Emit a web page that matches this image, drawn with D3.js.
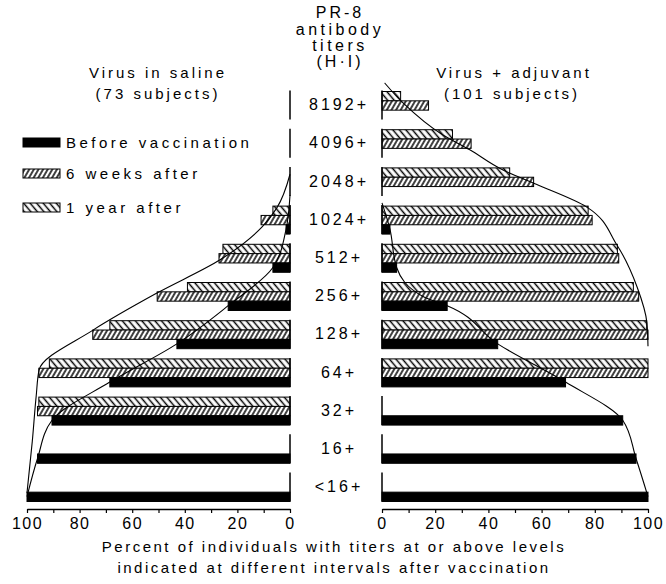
<!DOCTYPE html>
<html>
<meta charset="utf-8">
<head>
<script src="https://cdn.jsdelivr.net/npm/d3@7"></script>
<style>
  body { margin: 0; background: #fff; }
  text { font-family: "Liberation Sans", Arial, sans-serif; fill: #000; }
</style>
</head>
<body>
<svg id="chart" width="666" height="584"></svg>
<script>
// titer levels, top to bottom
var titers = ["8192+", "4096+", "2048+", "1024+", "512+", "256+", "128+", "64+", "32+", "16+", "<16+"];

// Virus in saline (73 subjects), percent at or above level
var salineBefore = [null, null, null, 1.5, 6.5, 23.5, 43, 68.5, 90.5, 96, 100];
var salineWeeks  = [null, null, null, 11, 27, 50.5, 75, 95.5, 96, null, null];
var salineYear   = [null, null, null, 6.5, 25.5, 39, 68.5, 91.5, 95.5, null, null];

// Virus + adjuvant (101 subjects)
var adjuvantBefore = [null, null, null, 3, 5.5, 24.5, 43.5, 69, 90.5, 95.5, 100];
var adjuvantWeeks  = [17.5, 33.5, 57, 79, 89, 96.5, 100, 100, null, null, null];
var adjuvantYear   = [7, 26.5, 48, 77.5, 88.5, 94.5, 99.5, 100, null, null, null];

// hand fitted curves: [row position, percent]
var salineBeforeCurve = [[2.35, 0], [3.24, 1.5], [4.24, 6.5], [5.24, 23.5], [6.24, 43], [7.24, 68.5], [8.24, 90.5], [9.24, 96], [10.24, 100]];
var salineAfterCurve = [[1.8, 0], [2.68, 5], [3.18, 10.6], [4.04, 26.6], [4.91, 50.6], [5.88, 74.9], [6.92, 95.4], [7.6, 96.5], [8.8, 98], [10.14, 100]];
var adjuvantBeforeCurve = [[2.55, 0], [3.24, 3], [4.24, 5.5], [5.0, 15.4], [5.24, 24.5], [6.24, 43.5], [7.24, 69], [8.24, 90.5], [9.24, 95.5], [10.24, 100]];
var adjuvantAfterCurve = [[-0.59, 1], [-0.07, 7.9], [0.77, 22.9], [1.16, 33], [1.69, 45.5], [2.03, 56.8], [2.66, 77], [3.65, 88.3], [4.75, 95.9], [5.69, 99.6], [6.3, 100]];

var axisTicks = [0, 10, 20, 30, 40, 50, 60, 70, 80, 90, 100];

var svg = d3.select("#chart");

var xL = d3.scaleLinear().domain([0, 100]).range([290, 27]);
var xR = d3.scaleLinear().domain([0, 100]).range([382, 648]);
var yRow = d3.scaleLinear().domain([0, 10]).range([105.5, 487.5]);
var barH = 9.33;

// hatch patterns
var defs = svg.append("defs");
function hatch(id, w, angle) {
  var p = defs.append("pattern").attr("id", id)
    .attr("patternUnits", "userSpaceOnUse")
    .attr("width", w).attr("height", w)
    .attr("patternTransform", "rotate(" + angle + ")");
  p.append("rect").attr("width", w).attr("height", w).attr("fill", "#fff");
  p.append("line").attr("x1", w / 2).attr("y1", 0).attr("x2", w / 2).attr("y2", w)
    .attr("stroke", "#000").attr("stroke-width", 1.5);
}
hatch("weeks", 4, 30);
hatch("year", 5, -40);

function panel(x, before, weeks, year, curves) {
  var g = svg.append("g");
  var series = [
    {vals: year, fill: "url(#year)", k: 0},
    {vals: weeks, fill: "url(#weeks)", k: 1},
    {vals: before, fill: "#000", k: 2}
  ];
  series.forEach(function(s) {
    var rows = s.vals.map(function(v, i) { return {v: v, i: i}; })
      .filter(function(d) { return d.v != null; });
    g.selectAll(null).data(rows).enter().append("rect")
      .attr("x", function(d) { return Math.min(x(0), x(d.v)); })
      .attr("width", function(d) { return Math.abs(x(d.v) - x(0)); })
      .attr("y", function(d) { return yRow(d.i) - 14 + s.k * barH; })
      .attr("height", barH)
      .attr("fill", s.fill)
      .attr("stroke", "#000")
      .attr("stroke-width", 1);
  });

  // short baseline for each row
  g.selectAll(null).data(titers).enter().append("line")
    .attr("x1", x(0)).attr("x2", x(0))
    .attr("y1", function(d, i) { return yRow(i) - 15; })
    .attr("y2", function(d, i) { return yRow(i) + 14; })
    .attr("stroke", "#000").attr("stroke-width", 1.5);

  var line = d3.line()
    .x(function(d) { return x(d[1]); })
    .y(function(d) { return yRow(d[0]); })
    .curve(d3.curveMonotoneY);
  curves.forEach(function(c) {
    g.append("path").attr("d", line(c))
      .attr("fill", "none").attr("stroke", "#000").attr("stroke-width", 1.1);
  });

  var ax = g.append("g").attr("transform", "translate(0,509)")
    .call(d3.axisBottom(x).tickValues(axisTicks).tickSize(4).tickSizeOuter(0).tickPadding(5)
      .tickFormat(function(d) { return d % 20 ? "" : d; }));
  ax.select(".domain").attr("stroke-width", 1.5);
  ax.selectAll(".tick line").attr("stroke-width", 1.2);
  ax.selectAll("text").attr("font-size", 16).attr("font-family", "Liberation Sans, Arial, sans-serif")
    .style("letter-spacing", "1.5px");
}

panel(xL, salineBefore, salineWeeks, salineYear, [salineBeforeCurve, salineAfterCurve]);
panel(xR, adjuvantBefore, adjuvantWeeks, adjuvantYear, [adjuvantBeforeCurve, adjuvantAfterCurve]);

// titer labels in the middle
svg.append("g").selectAll("text").data(titers).enter().append("text")
  .attr("x", 339).attr("y", function(d, i) { return yRow(i) - 1; })
  .attr("dy", "0.36em")
  .attr("text-anchor", "middle")
  .attr("font-size", 16)
  .style("letter-spacing", "3px")
  .text(function(d) { return d; });

// headers
function label(txt, x, y, size, ls) {
  svg.append("text").attr("x", x).attr("y", y).attr("text-anchor", "middle")
    .attr("font-size", size).style("letter-spacing", ls + "px").text(txt);
}
label("PR-8", 340, 18, 16, 3);
label("antibody", 340, 35, 16, 3.5);
label("titers", 340, 51, 16, 3.5);
label("(H\u00b7I)", 340, 67, 16, 3);
label("Virus in saline", 158, 78, 15, 3);
label("(73 subjects)", 158, 99, 15, 3);
label("Virus + adjuvant", 514, 78, 15, 3);
label("(101 subjects)", 512, 99, 15, 3);
label("Percent of individuals with titers at or above levels", 334, 552, 15, 2.5);
label("indicated at different intervals after vaccination", 334, 573, 15, 2.5);

// legend
var legendItems = ["Before vaccination", "6 weeks after", "1 year after"];
var legendFills = ["#000", "url(#weeks)", "url(#year)"];
var legendY = [138, 169, 203];
var lg = svg.append("g");
legendItems.forEach(function(t, i) {
  lg.append("rect").attr("x", 23).attr("y", legendY[i]).attr("width", 37).attr("height", 9)
    .attr("fill", legendFills[i]).attr("stroke", "#000").attr("stroke-width", 1);
  lg.append("text").attr("x", 66).attr("y", legendY[i] + 4.5).attr("dy", "0.36em")
    .attr("font-size", 15).style("letter-spacing", "3.5px").text(t);
});
</script>
</body>
</html>
